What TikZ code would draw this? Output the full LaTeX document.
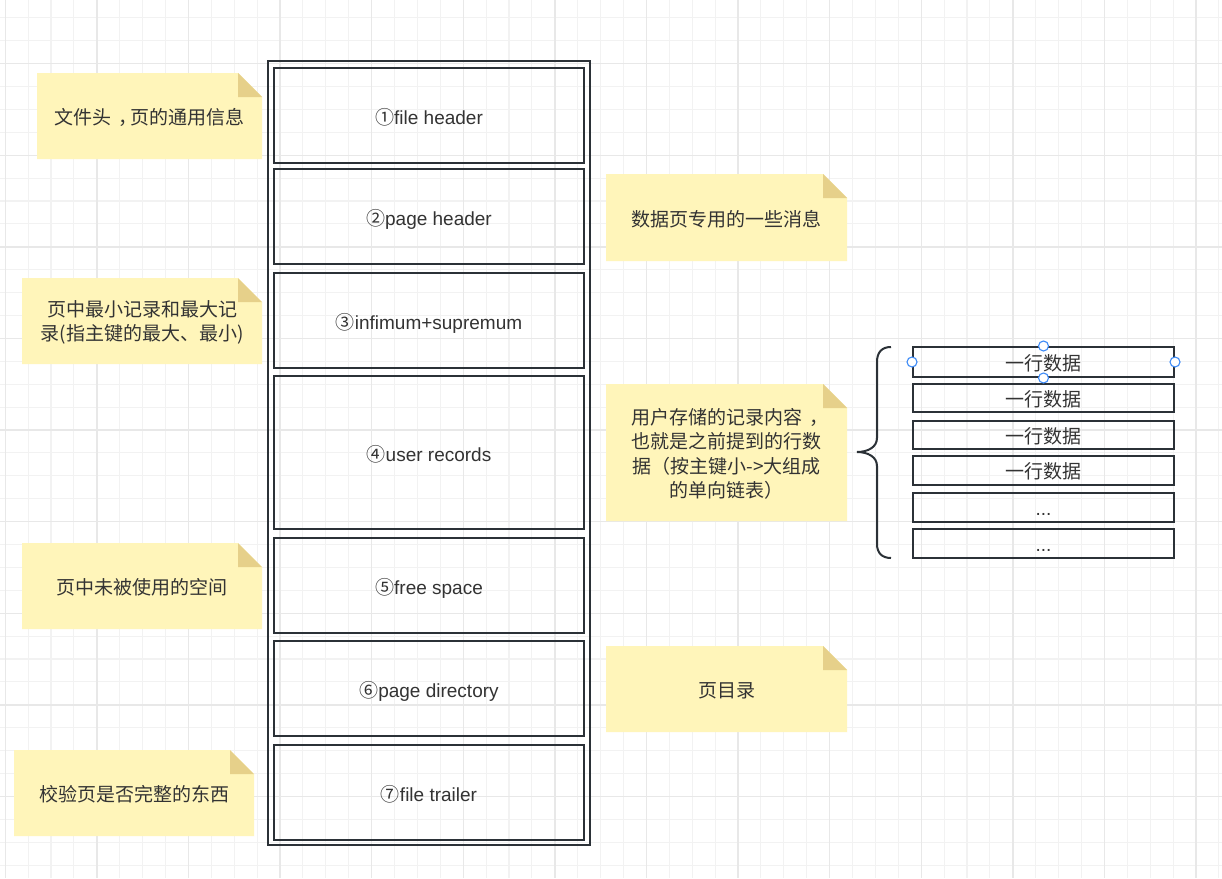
\documentclass[tikz,border=0pt]{standalone}
\usepackage{fontspec}
\setmainfont{Liberation Sans}
\newfontfamily\cjk{Noto Sans CJK SC}
\definecolor{boxc}{HTML}{2B3137}
\definecolor{txt}{HTML}{333333}
\definecolor{notefill}{HTML}{FFF5BA}
\definecolor{foldfill}{HTML}{E6D08A}
\definecolor{minorg}{HTML}{F2F2F2}
\definecolor{majorg}{HTML}{E8E8E8}
\definecolor{handle}{HTML}{3D8BF7}
\newcommand\ccomma{\makebox[1em][l]{\hspace{0.38em}，}}
\newcommand\stickynote[6]{%
  \fill[notefill] (#2,#3) -- (#4-24,#3) -- (#4,#3+24) -- (#4,#5) -- (#2,#5) -- cycle;
  \fill[foldfill] (#4-24,#3) -- (#4-24,#3+24) -- (#4,#3+24) -- cycle;
  \node[notetext] (#1) at ({(#2+#4)/2},{(#3+#5)/2}) {#6};
}
\begin{document}
\begin{tikzpicture}[x=1pt,y=-1pt,
  minorgrid/.style={draw=minorg,line width=1.1pt},
  majorgrid/.style={draw=majorg,line width=1.4pt},
  notetext/.style={text=txt,align=center,font=\cjk\fontsize{19}{24.5}\selectfont,inner sep=0pt,yshift=-1.5pt},
  part/.style={draw=boxc,line width=2pt,minimum width=310,text=txt,font=\fontsize{19}{23}\selectfont,inner sep=0pt,text height=17pt,text depth=0pt},
  outerbox/.style={draw=boxc,line width=2pt,minimum width=322,minimum height=784,inner sep=0pt},
  rowbox/.style={draw=boxc,line width=2pt,minimum width=261,text=txt,font=\cjk\fontsize{19}{23}\selectfont,inner sep=0pt,text height=16.4pt,text depth=0pt},
  handlec/.style={draw=handle,fill=white,line width=1.1pt,circle,minimum size=10,inner sep=0pt},
  bracec/.style={draw=boxc,line width=2pt}
]
\useasboundingbox (0,0) rectangle (1222,878);
\fill[white] (0,0) rectangle (1222,878);
% grid
\foreach \i in {0,...,53} \draw[minorgrid] ({5.2+22.9*\i},0) -- ++(0,878);
\foreach \j in {0,...,38} \draw[minorgrid] (0,{17.8+22.9*\j}) -- ++(1222,0);
\foreach \i in {0,...,13} \draw[majorgrid] ({5.2+91.6*\i},0) -- ++(0,878);
\foreach \j in {0,...,8} \draw[majorgrid] (0,{63.6+91.6*\j}) -- ++(1222,0);
% page structure
\node[outerbox] (page) at (429,453) {};
\node[part,minimum height=95] (fh) at (429,115.5) {{\cjk ①}file header};
\node[part,minimum height=95] (ph) at (429,216.5) {{\cjk ②}page header};
\node[part,minimum height=95] (is) at (429,320.5) {{\cjk ③}infimum+supremum};
\node[part,minimum height=153] (ur) at (429,452.5) {{\cjk ④}user records};
\node[part,minimum height=95] (fs) at (429,585.5) {{\cjk ⑤}free space};
\node[part,minimum height=95] (pd) at (429,688.5) {{\cjk ⑥}page directory};
\node[part,minimum height=95] (ft) at (429,792.5) {{\cjk ⑦}file trailer};
% notes
\stickynote{n1}{37}{73}{262}{159}{文件头\ccomma 页的通用信息}
\stickynote{n2}{606}{174}{847}{261}{数据页专用的一些消息}
\stickynote{n3}{22}{278}{262}{364}{页中最小记录和最大记\\录(指主键的最大、最小)}
\stickynote{n4}{606}{384}{847}{521}{用户存储的记录内容\ccomma\\也就是之前提到的行数\\据（按主键小->大组成\\的单向链表）}
\stickynote{n5}{22}{543}{262}{629}{页中未被使用的空间}
\stickynote{n6}{606}{646}{847}{732}{页目录}
\stickynote{n7}{14}{750}{254}{836}{校验页是否完整的东西}
% brace
\draw[bracec] (891,347) .. controls (882,347) and (877,352) .. (877,362) -- (877,438)
  .. controls (877,447) and (868,452) .. (857,452)
  .. controls (868,452) and (877,457) .. (877,466) -- (877,544)
  .. controls (877,553) and (882,558) .. (891,558);
% rows
\node[rowbox,minimum height=30] (r1) at (1043.5,362) {一行数据};
\node[rowbox,minimum height=28] (r2) at (1043.5,398) {一行数据};
\node[rowbox,minimum height=28] (r3) at (1043.5,435) {一行数据};
\node[rowbox,minimum height=29] (r4) at (1043.5,470.5) {一行数据};
\node[rowbox,minimum height=29] (r5) at (1043.5,507.5) {\rmfamily ...};
\node[rowbox,minimum height=29] (r6) at (1043.5,543.5) {\rmfamily ...};
% selection handles
\node[handlec] (h1) at (r1.west) {};
\node[handlec] (h2) at (r1.east) {};
\node[handlec] (h3) at (r1.north) {};
\node[handlec] (h4) at (r1.south) {};
\end{tikzpicture}
\end{document}
